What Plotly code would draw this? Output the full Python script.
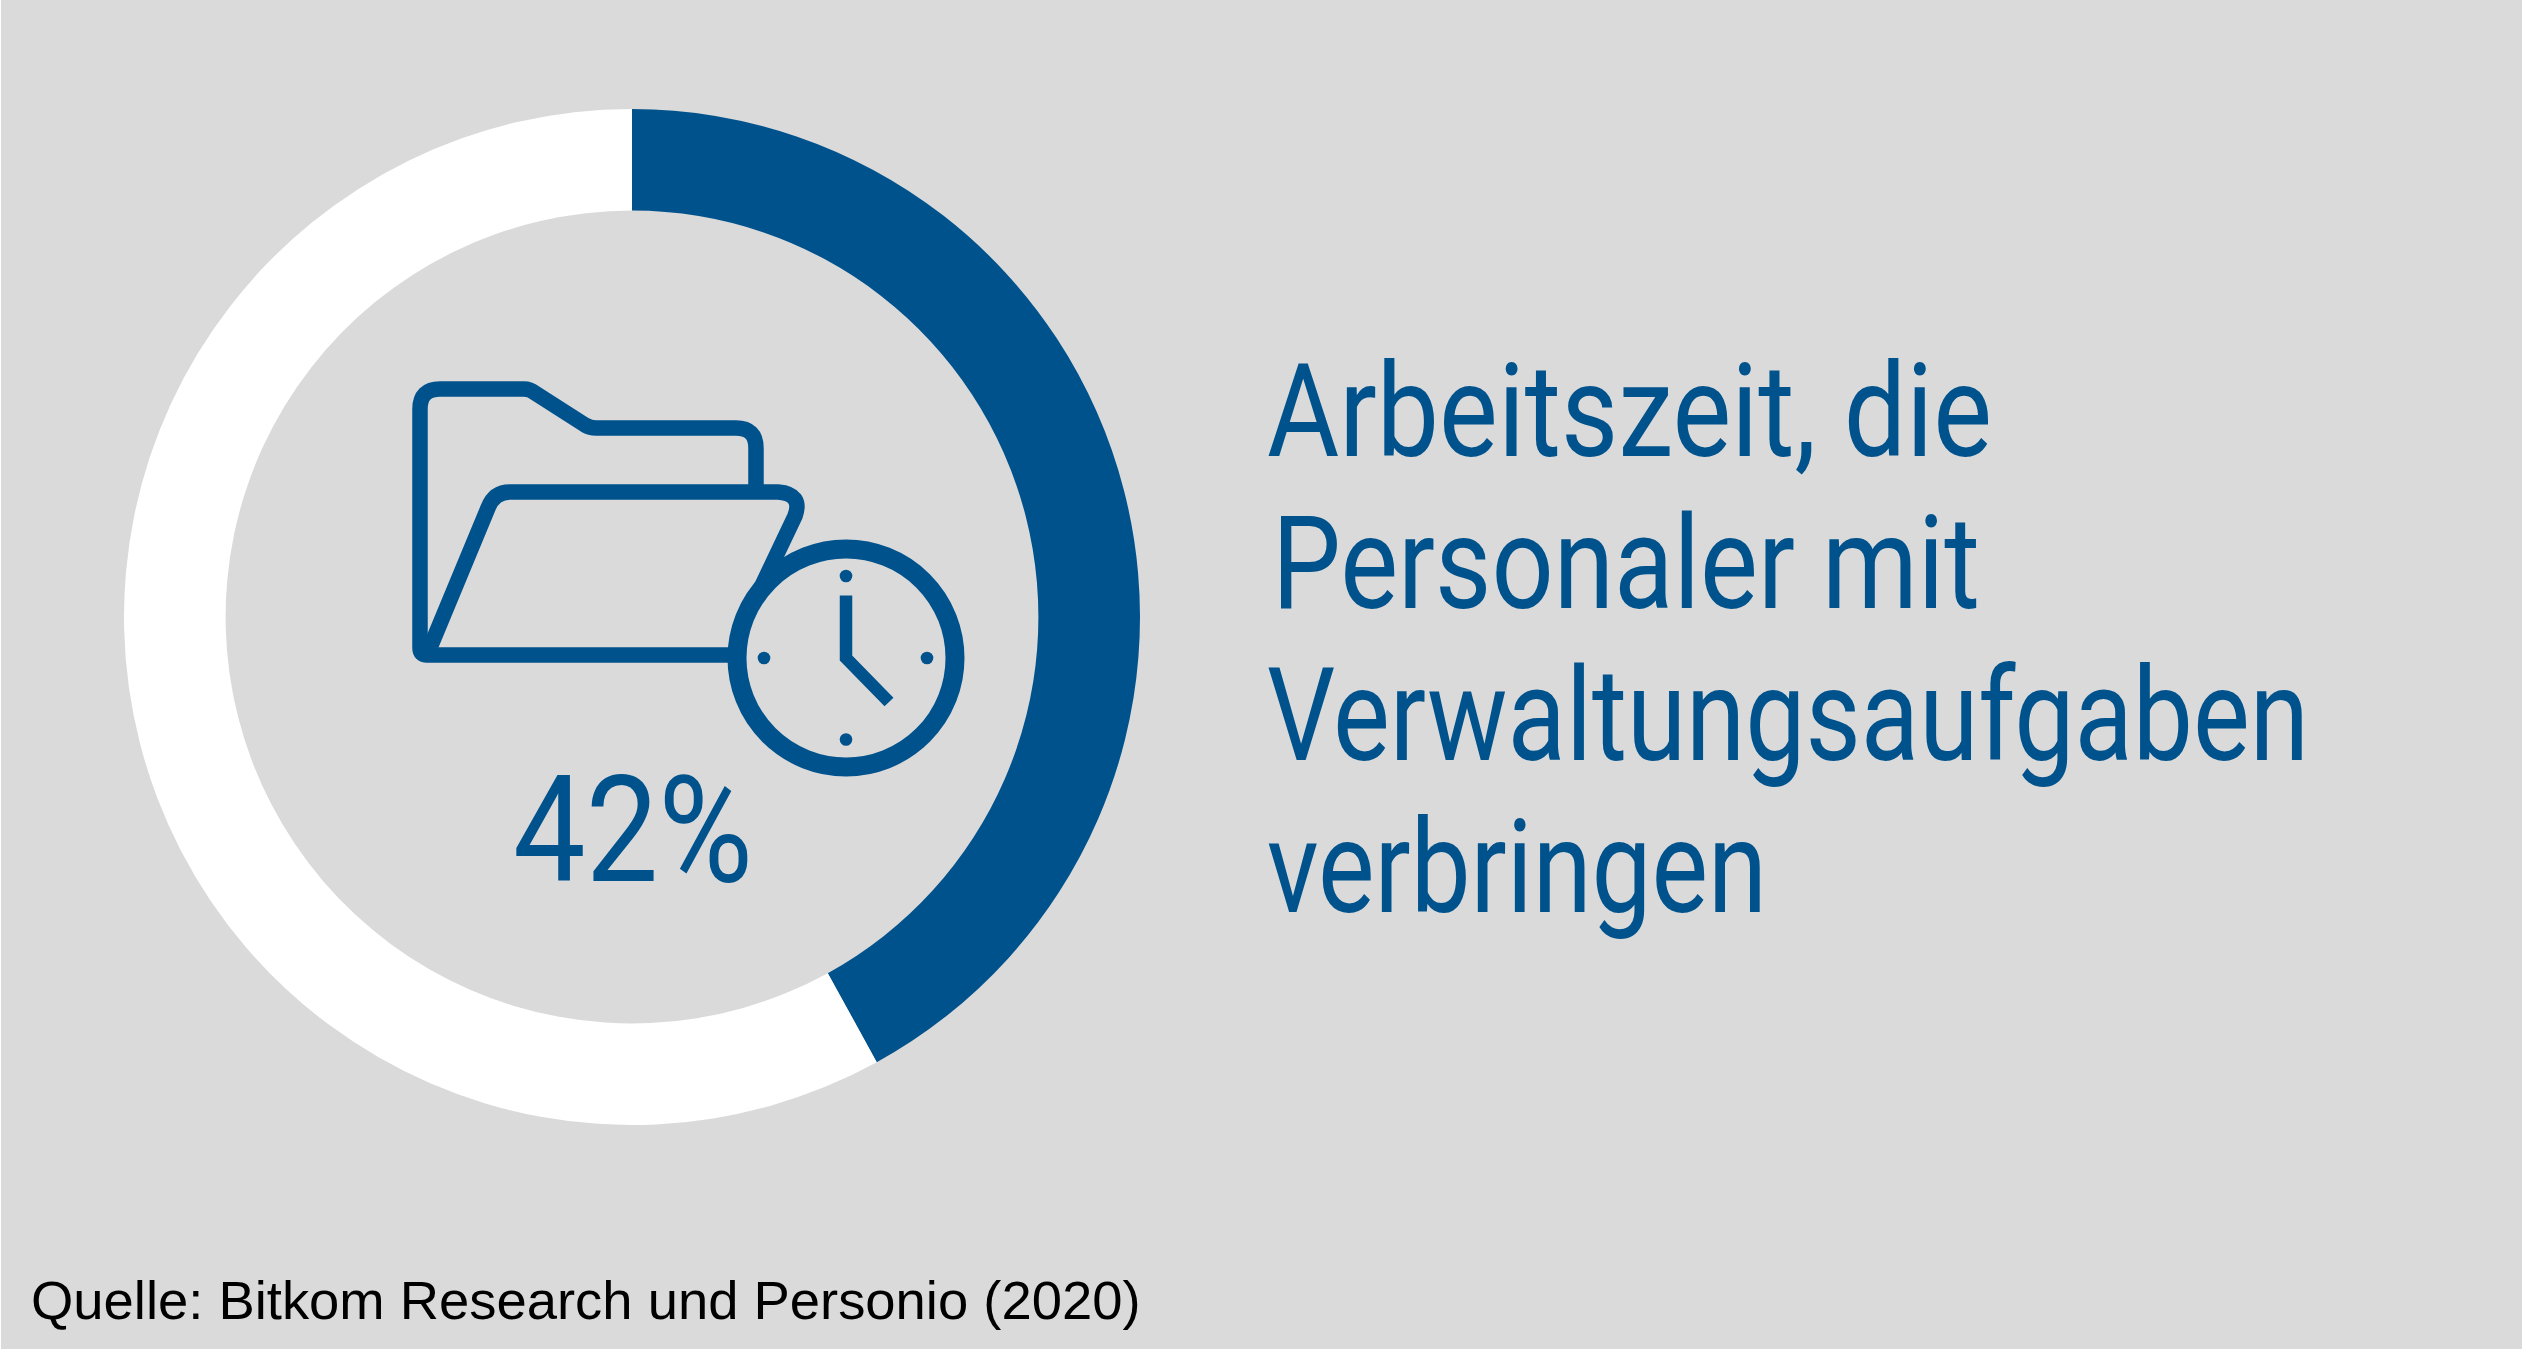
import json
import plotly.graph_objects as go

W, H = 2522, 1366

# Data
labels = ["Verwaltungsaufgaben", "Sonstige Arbeitszeit"]
values = [42, 58]
slice_colors = ["#00528C", "#FFFFFF"]
text_lines = ["Arbeitszeit, die", "Personaler mit", "Verwaltungsaufgaben", "verbringen"]
source = "Quelle: Bitkom Research und Personio (2020)"

BLUE = "#00528C"
GREY = "#DADADA"


def px(x):
    return x / W


def py(y):
    return 1 - y / H


def path(*cmds):
    # commands in image pixels, converted to paper coordinates
    out = []
    for c in cmds:
        nums = c[1:]
        pts = []
        for i in range(0, len(nums), 2):
            pts.append(f"{px(nums[i]):.5f},{py(nums[i + 1]):.5f}")
        out.append(c[0] + " ".join(pts))
    return " ".join(out)


def circle(cx, cy, r, **kw):
    return dict(type="circle", xref="paper", yref="paper",
                x0=px(cx - r), x1=px(cx + r), y0=py(cy + r), y1=py(cy - r), **kw)


line_style = dict(color=BLUE, width=15.5)

shapes = [
    # background
    dict(type="rect", xref="paper", yref="paper", layer="below",
         x0=px(1), x1=1, y0=py(1349), y1=1, fillcolor=GREY, line_width=0),
    # back of the folder
    dict(type="path", xref="paper", yref="paper", line=line_style,
         path=path(("M", 756, 492), ("L", 756, 448), ("Q", 756, 428, 736, 428),
                   ("L", 596, 428), ("Q", 590, 428, 585, 425), ("L", 535, 393),
                   ("Q", 530, 389, 524, 389), ("L", 440, 389), ("Q", 420, 389, 420, 409),
                   ("L", 420, 648), ("Q", 420, 655, 427, 655), ("L", 735, 655))),
    # front of the folder
    dict(type="path", xref="paper", yref="paper", line=line_style,
         path=path(("M", 427, 655), ("L", 488, 508), ("Q", 494, 492, 510, 492),
                   ("L", 778, 492), ("Q", 803, 494, 795, 516), ("L", 757, 596))),
    # clock
    circle(846, 658, 109, fillcolor=GREY, line=dict(color=BLUE, width=19)),
    circle(846, 576, 6.3, fillcolor=BLUE, line_width=0),
    circle(846, 739.5, 6.3, fillcolor=BLUE, line_width=0),
    circle(764, 658, 6.3, fillcolor=BLUE, line_width=0),
    circle(927, 658, 6.3, fillcolor=BLUE, line_width=0),
    dict(type="path", xref="paper", yref="paper", line=dict(color=BLUE, width=12.5),
         path=path(("M", 846, 595.5), ("L", 846, 658), ("L", 889, 702))),
]

# Create the donut
fig = go.Figure(
    go.Pie(
        labels=labels,
        values=values,
        hole=0.8,
        sort=False,
        direction="clockwise",
        rotation=0,
        textinfo="none",
        hoverinfo="skip",
        showlegend=False,
        marker=dict(colors=slice_colors, line=dict(width=0)),
        domain=dict(x=[px(124), px(1140)], y=[py(1126), py(108)]),
    )
)

pct_text = f"{values[0]}%"
annotations = [
    dict(text=pct_text, x=px(512), y=py(882), xanchor="left", yanchor="bottom",
         yshift=-36, font=dict(family="Roboto", size=149, color=BLUE, weight=450)),
    dict(text=source, x=px(30), y=py(1320), xanchor="left", yanchor="bottom",
         yshift=-12, font=dict(family="Liberation Sans", size=54.4, color="black")),
]
for line, x, base in zip(text_lines, [1266, 1271, 1266, 1266], [457, 609, 761, 913]):
    annotations.append(
        dict(text=line, x=px(x), y=py(base), xanchor="left", yanchor="bottom",
             yshift=-31, font=dict(family="Roboto", size=129, color=BLUE, weight=450))
    )
for a in annotations:
    a.update(xref="paper", yref="paper", showarrow=False, borderpad=0)

fig.update_layout(
    width=W,
    height=H,
    margin=dict(l=0, r=0, t=0, b=0),
    paper_bgcolor="white",
    shapes=shapes,
    annotations=annotations,
)

# No condensed face is installed, so squeeze the real text to the measured widths
text_widths = {text_lines[0]: 725, text_lines[1]: 708, text_lines[2]: 1042, text_lines[3]: 500, pct_text: 240}
post = (
    "document.body.style.margin='0';document.body.style.overflow='hidden';"
    f"var widths={json.dumps(text_widths)};"
    "document.querySelectorAll('.annotation-text').forEach(function(t){"
    "var w=widths[t.textContent];if(!w)return;"
    "var left=t.getBBox().x;"
    "t.setAttribute('text-anchor','start');t.style.textAnchor='start';t.setAttribute('x',left);"
    "t.setAttribute('textLength',w);t.setAttribute('lengthAdjust','spacingAndGlyphs');"
    "var r=t.parentNode.querySelector('rect.bg');if(r){r.setAttribute('width',w);}});"
)
fig.write_html("out.html", config=dict(displayModeBar=False), post_script=post)
